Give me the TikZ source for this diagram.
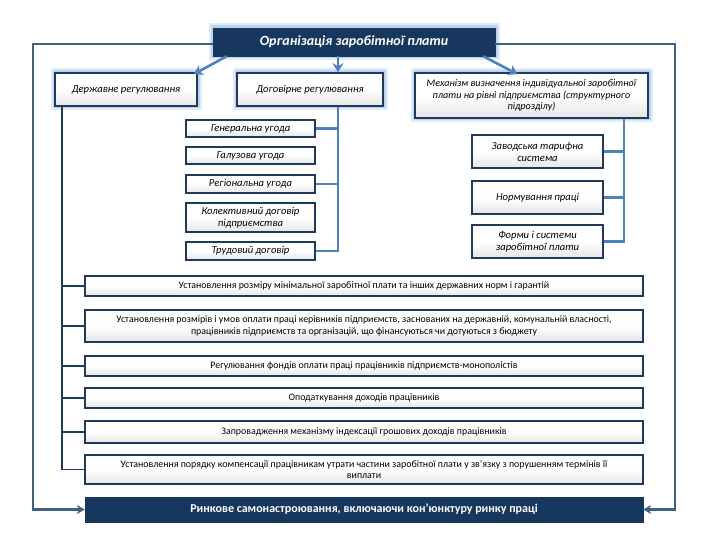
\documentclass[tikz,border=0pt]{standalone}
\usepackage{fontspec}
\setmainfont{Carlito}
\usetikzlibrary{arrows.meta,shadows,calc}
\definecolor{navy}{HTML}{17375E}
\definecolor{boxline}{HTML}{1F3A5A}
\definecolor{lblue}{HTML}{4F81BD}
\definecolor{frameblue}{HTML}{3E6283}
\definecolor{glowblue}{HTML}{8DB3E2}
\tikzset{
  wbox/.style={draw=boxline, line width=1.6pt, top color=white, bottom color=black!10,
    middle color=white, align=center, inner sep=1pt,
    drop shadow={shadow xshift=1.2pt, shadow yshift=-1.2pt, opacity=0.35}},
  ibox/.style={wbox, font=\fontsize{10.6}{12}\selectfont\itshape},
  tbox/.style={wbox, font=\fontsize{9.9}{11.5}\selectfont},
  glow/.style={preaction={draw=glowblue, line width=9pt, opacity=0.25},
               preaction={draw=glowblue, line width=5pt, opacity=0.45}},
  dbox/.style={fill=navy, draw=navy, text=white, align=center, inner sep=1pt},
  tarrow/.style={draw=lblue, line width=2.6pt, -{Stealth[length=9pt,width=11pt]}},
  frameline/.style={draw=frameblue, line width=2.2pt},
  navyline/.style={draw=boxline, line width=1.8pt},
  blueline/.style={draw=lblue, line width=2.4pt},
}
\begin{document}
\begin{tikzpicture}[x=1pt,y=-1pt]
\useasboundingbox (0,0) rectangle (720,540);
% title
\node[dbox, glow, minimum width=282pt, minimum height=28pt,
  font=\fontsize{14}{16}\selectfont\bfseries\itshape] (title) at (354,42) {Організація заробітної плати};
% top level
\node[ibox, glow, minimum width=142pt, minimum height=33pt] (dz) at (126,89.5) {Державне регулювання};
\node[ibox, glow, minimum width=146pt, minimum height=33pt] (dg) at (310,89.5) {Договірне регулювання};
\node[ibox, glow, minimum width=233pt, minimum height=45pt, font=\fontsize{10.1}{11.8}\selectfont\itshape] (mech) at (531.5,95.5)
  {Механізм визначення індивідуальної заробітної\\плати на рівні підприємства (структурного\\підрозділу)};
% left column (contract)
\node[ibox, minimum width=129pt, minimum height=17pt] (g1) at (250.5,128.5) {Генеральна угода};
\node[ibox, minimum width=129pt, minimum height=17pt] (g2) at (250.5,155.5) {Галузова угода};
\node[ibox, minimum width=129pt, minimum height=18pt] (g3) at (250.5,184) {Регіональна угода};
\node[ibox, minimum width=129pt, minimum height=29pt] (g4) at (250.5,217.5) {Колективний договір\\підприємства};
\node[ibox, minimum width=129pt, minimum height=18pt] (g5) at (250.5,251) {Трудовий договір};
% right column
\node[ibox, minimum width=131pt, minimum height=33pt] (r1) at (537.5,151.5) {Заводська тарифна\\система};
\node[ibox, minimum width=131pt, minimum height=33pt] (r2) at (537.5,197.5) {Нормування праці};
\node[ibox, minimum width=131pt, minimum height=33pt] (r3) at (537.5,241.5) {Форми і системи\\заробітної плати};
% wide boxes
\node[tbox, minimum width=558pt, minimum height=20pt] (w1) at (364,286) {Установлення розміру мінімальної заробітної плати та інших державних норм і гарантій};
\node[tbox, minimum width=558pt, minimum height=32pt] (w2) at (364,326) {Установлення розмірів і умов оплати праці керівників підприємств, заснованих на державній, комунальній власності,\\працівників підприємств та організацій, що фінансуються чи дотуються з бюджету};
\node[tbox, minimum width=558pt, minimum height=20pt] (w3) at (364,366) {Регулювання фондів оплати праці працівників підприємств-монополістів};
\node[tbox, minimum width=558pt, minimum height=20pt] (w4) at (364,398) {Оподаткування доходів працівників};
\node[tbox, minimum width=558pt, minimum height=22pt] (w5) at (364,432) {Запровадження механізму індексації грошових доходів працівників};
\node[tbox, minimum width=558pt, minimum height=29pt] (w6) at (364,469.5) {Установлення порядку компенсації працівникам утрати частини заробітної плати у зв’язку з порушенням термінів її\\виплати};
% bottom
\node[dbox, minimum width=558pt, minimum height=25pt,
  font=\fontsize{12}{14}\selectfont\bfseries] (bot) at (364,509.5) {Ринкове самонастроювання, включаючи кон’юнктуру ринку праці};
% helper x positions
\coordinate (fl) at (33,0);
\coordinate (fr) at (675,0);
\coordinate (lx) at (62,0);
\coordinate (mx) at (338,0);
\coordinate (rx) at (624,0);
% arrows from title
\draw[tarrow] ([xshift=14pt]title.south west) -- ([xshift=-4pt,yshift=-2pt]dz.north east);
\draw[tarrow] (title.south -| mx) -- (dg.north -| mx);
\draw[tarrow] ([xshift=-12pt]title.south east) -- ([xshift=-14pt,yshift=-2pt]mech.north);
% outer frame
\draw[frameline, -{Stealth[length=8pt,width=9pt]}] ([yshift=-2pt]title.west) -| (fl |- bot.west) -- (bot.west);
\draw[frameline, -{Stealth[length=8pt,width=9pt]}] ([yshift=-2pt]title.east) -| (fr |- bot.east) -- (bot.east);
% state regulation tree
\draw[navyline] (dz.south -| lx) |- (w6.west);
\foreach \n in {w1,w2,w3,w4,w5} \draw[navyline] (lx |- \n.west) -- (\n.west);
% contract tree
\draw[blueline] (dg.south -| mx) |- (g5.east);
\foreach \n in {g1,g3} \draw[blueline] (mx |- \n.east) -- (\n.east);
% mechanism tree
\draw[blueline] (mech.south -| rx) |- (r3.east);
\foreach \n in {r1,r2} \draw[blueline] (rx |- \n.east) -- (\n.east);
\end{tikzpicture}
\end{document}
